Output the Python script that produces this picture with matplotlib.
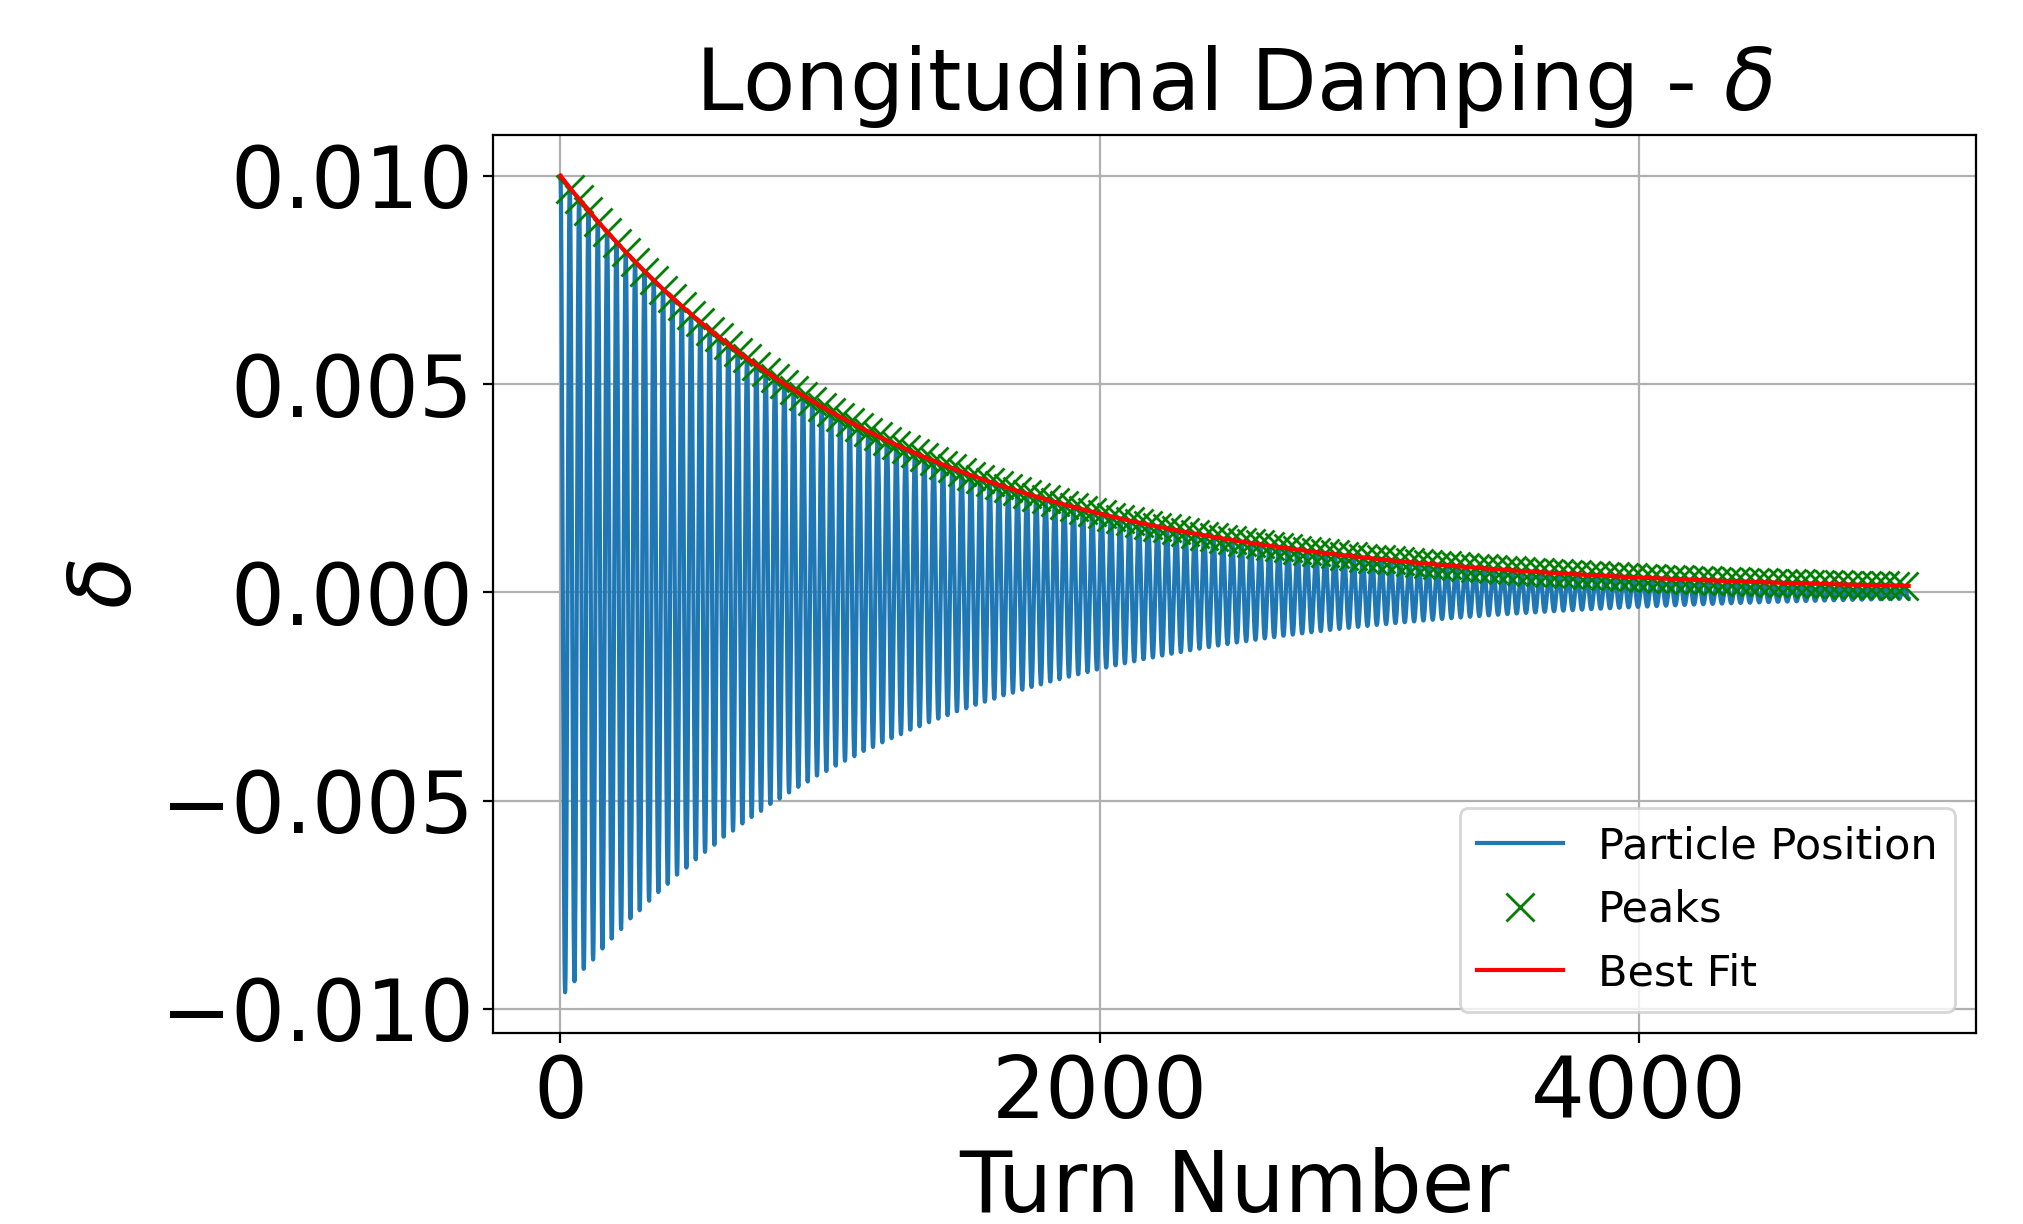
import numpy as np
import matplotlib
matplotlib.use("Agg")
import matplotlib.pyplot as plt

# values
n_turns = 5000            # last turn tracked
delta_0 = 0.010           # starting momentum offset
fit_amplitude = 0.010     # best fit  A * exp(-t / tau)
fit_tau = 1200.0          # damping time in turns
sync_period = 34.6        # turns per synchrotron oscillation
trough_ratio = 0.975      # negative swings are a bit smaller than the positive ones

# tracked particle, one sample per turn
turns = np.arange(0, n_turns + 1)
envelope = delta_0 * np.exp(-turns / fit_tau)
osc = np.cos(2 * np.pi * turns / sync_period)
delta = envelope * np.where(osc < 0, osc * trough_ratio, osc)

# local maxima (first sample is not counted, like find_peaks)
pk = np.where((delta[1:-1] > delta[:-2]) & (delta[1:-1] >= delta[2:]))[0] + 1

best_fit = fit_amplitude * np.exp(-turns / fit_tau)

fig = plt.figure(figsize=(10.12, 6.12), dpi=200)
ax = fig.add_axes([0.2436, 0.156, 0.7327, 0.7337])

ax.plot(turns, delta, label="Particle Position")
ax.plot(turns[pk], delta[pk], "x", color="green", markersize=10, label="Peaks")
ax.plot(turns, best_fit, color="red", label="Best Fit")

ax.set_title(r"Longitudinal Damping - $\delta$", fontsize=30.8, pad=9)
ax.set_xlabel("Turn Number", fontsize=30.7)
ax.set_ylabel(r"$\delta$", fontsize=30.7)
ax.tick_params(labelsize=30.5)
ax.grid(True)
ax.legend(loc="lower right", fontsize=15.5)

fig.savefig("out.png", dpi=200)
